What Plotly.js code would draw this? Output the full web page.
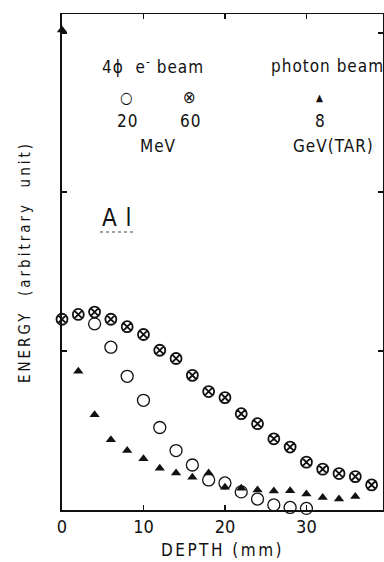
<!DOCTYPE html>
<html>
<head>
<meta charset="utf-8">
<script src="https://cdn.plot.ly/plotly-3.0.1.min.js"></script>
<style>
  html, body { margin: 0; padding: 0; background: #fff; }
  #chart { width: 384px; height: 562px; }
  .xtitle { letter-spacing: 2.5px; }
  .ytitle { letter-spacing: 3px; }
  .annotation-text { letter-spacing: 1px; }
</style>
</head>
<body>
<div id="chart"></div>
<script>
// Depth (mm)
const depth60 = [0, 2, 4, 6, 8, 10, 12, 14, 16, 18, 20, 22, 24, 26, 28, 30, 32, 34, 36, 38];
const energy60MeV = [1.20, 1.23, 1.245, 1.20, 1.153, 1.104, 1.005, 0.953, 0.847, 0.745, 0.707, 0.606, 0.543, 0.448, 0.396, 0.301, 0.257, 0.229, 0.21, 0.158];

const depth20 = [4, 6, 8, 10, 12, 14, 16, 18, 20, 22, 24, 26, 28, 30];
const energy20MeV = [1.171, 1.024, 0.841, 0.69, 0.519, 0.374, 0.283, 0.189, 0.170, 0.114, 0.069, 0.032, 0.016, 0.010];

const depth8 = [0, 2, 4, 6, 8, 10, 12, 14, 16, 18, 20, 22, 24, 26, 28, 30, 32, 34, 36];
const energy8GeV = [3.02, 0.873, 0.599, 0.442, 0.374, 0.322, 0.263, 0.232, 0.206, 0.233, 0.143, 0.137, 0.126, 0.119, 0.121, 0.101, 0.079, 0.069, 0.085];

const xTicks = [0, 10, 20, 30];
const yTicks = [0, 1, 2, 3];

const FONT = '"DejaVu Sans Condensed", "Liberation Sans", sans-serif';

const traces = [
  {
    x: depth60, y: energy60MeV, type: 'scatter', mode: 'markers', name: '60 MeV',
    marker: { symbol: 'circle-x-open', size: 11, color: '#111', line: { width: 1.8, color: '#111' } },
    cliponaxis: false
  },
  {
    x: depth20, y: energy20MeV, type: 'scatter', mode: 'markers', name: '20 MeV',
    marker: { symbol: 'circle-open', size: 12, color: '#111', line: { width: 1.3, color: '#111' } },
    cliponaxis: false
  },
  {
    x: depth8, y: energy8GeV, type: 'scatter', mode: 'markers', name: '8 GeV (TAR)',
    marker: { symbol: 'triangle-up', size: 9, color: '#111' },
    cliponaxis: false
  }
];

const L = 62, R = 1, T = 14, B = 52;
const W = 384 - L - R, H = 562 - T - B;
function px(xp) { return (xp - L) / W; }
function py(yp) { return (562 - B - yp) / H; }

function ann(text, x, y, size) {
  return {
    text: text, xref: 'paper', yref: 'paper', x: px(x), y: py(y),
    xanchor: 'center', yanchor: 'middle', showarrow: false,
    font: { family: FONT, size: size || 17, color: '#111' }
  };
}

const layout = {
  width: 384, height: 562,
  margin: { l: L, r: R, t: T, b: B, pad: 0 },
  paper_bgcolor: '#fff', plot_bgcolor: '#fff',
  showlegend: false,
  font: { family: FONT, color: '#111' },
  xaxis: {
    range: [0, 39.4], tickvals: xTicks, ticktext: xTicks.map(String),
    ticks: 'inside', ticklen: 5, tickwidth: 1.2, tickcolor: '#111',
    showline: true, linecolor: '#111', linewidth: 1.5, mirror: 'ticks',
    showgrid: false, zeroline: false,
    tickfont: { family: FONT, size: 18, color: '#111' },
    title: { text: 'DEPTH (mm)', font: { family: FONT, size: 17, color: '#111' }, standoff: 8 }
  },
  yaxis: {
    range: [0, 3.12], tickvals: yTicks,
    ticks: 'inside', ticklen: 5, tickwidth: 1.2, tickcolor: '#111',
    showticklabels: false,
    showline: true, linecolor: '#111', linewidth: 1.8, mirror: 'ticks',
    showgrid: false, zeroline: false,
    title: { text: 'ENERGY\u00a0\u00a0(arbitrary\u00a0\u00a0unit)', font: { family: FONT, size: 15, color: '#111' }, standoff: 26 }
  },
  annotations: [
    ann('4\u03d5  e<sup>-</sup> beam', 153, 66),
    ann('photon beam', 327, 66),
    ann('\u25cb', 127, 97, 16),
    ann('\u2297', 190, 97, 17),
    ann('\u25b2', 320, 97, 10),
    ann('20', 127, 121),
    ann('60', 190, 121),
    ann('8', 320, 121),
    ann('MeV', 158, 146),
    ann('GeV(TAR)', 333, 146),
    ann('A l', 117, 218, 24)
  ],
  shapes: [
    { type: 'line', xref: 'paper', yref: 'paper', x0: px(100), x1: px(134), y0: py(232), y1: py(232),
      line: { color: '#444', width: 1, dash: 'dot' } }
  ]
};

Plotly.newPlot('chart', traces, layout, { displayModeBar: false, staticPlot: true });
</script>
</body>
</html>
